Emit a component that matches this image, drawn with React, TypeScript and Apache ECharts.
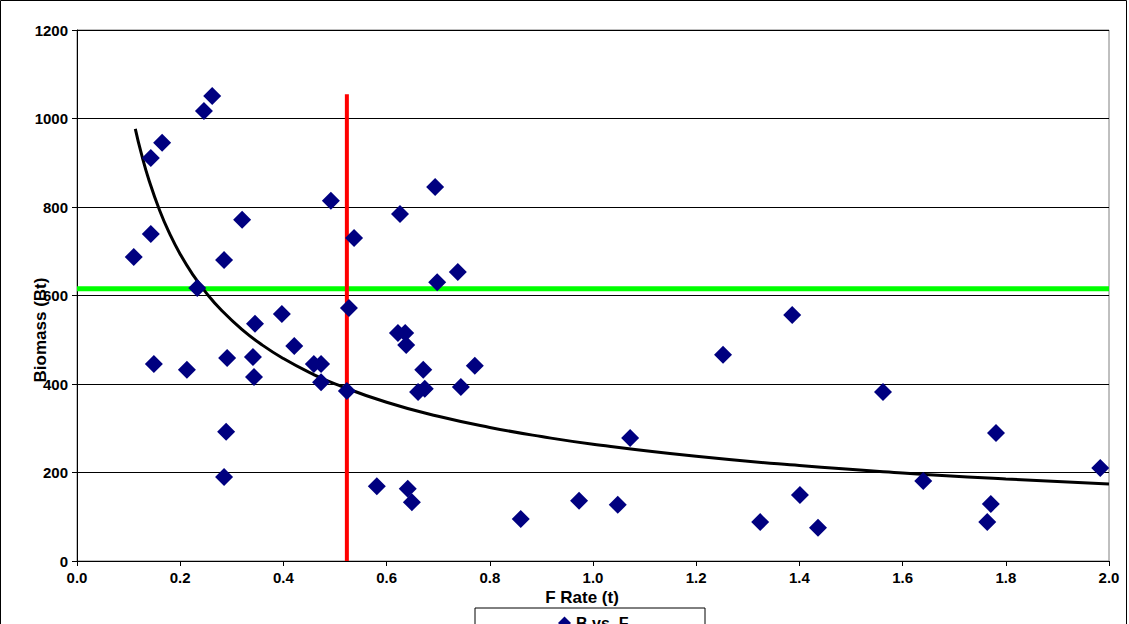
import React, { useEffect, useRef } from "react";
import * as echarts from "echarts";

const fRate = [
  0.11, 0.143, 0.165, 0.143, 0.149, 0.262, 0.246, 0.213, 0.233, 0.285, 0.32, 0.291, 0.289, 0.285,
  0.345, 0.341, 0.343, 0.397, 0.421, 0.459, 0.473, 0.473, 0.492, 0.527, 0.523, 0.537, 0.581,
  0.626, 0.622, 0.636, 0.638, 0.694, 0.698, 0.738, 0.671, 0.661, 0.674, 0.641, 0.649, 0.744,
  0.771, 0.86, 0.973, 1.048, 1.072, 1.252, 1.324, 1.386, 1.401, 1.436, 1.562, 1.64, 1.764,
  1.771, 1.781, 1.983,
];
const biomass = [
  687, 911, 945, 739, 445, 1051, 1017, 432, 617, 680, 771, 459, 292, 190, 536, 461, 416, 558,
  486, 445, 445, 404, 814, 572, 384, 730, 169, 784, 515, 515, 488, 845, 630, 653, 432, 382, 389,
  163, 133, 393, 441, 95, 136, 127, 278, 466, 88, 556, 149, 75, 382, 181, 88, 129, 289, 210,
];

// power trend fit: B = a * F^b
const trendA = 264;
const trendB = -0.6;
const trendX = [
  0.113, 0.125, 0.14, 0.16, 0.18, 0.2, 0.225, 0.25, 0.28, 0.32, 0.36, 0.4, 0.45, 0.5, 0.6, 0.7,
  0.8, 0.9, 1.0, 1.2, 1.4, 1.6, 1.8, 2.0,
];

const targetB = 615;
const currentF = 0.523;
const redTop = 1055;

const font = "'Liberation Sans', Arial, sans-serif";

const App = () => {
  const ref = useRef<HTMLDivElement>(null);

  useEffect(() => {
    if (!ref.current) return;
    const chart = echarts.init(ref.current, null, { renderer: "svg" });
    chart.setOption({
      animation: false,
      backgroundColor: "#fff",
      textStyle: { fontFamily: font },
      grid: { left: 77, right: 20, top: 30, bottom: 63, show: true, borderColor: "#808080", borderWidth: 1 },
      xAxis: {
        type: "value",
        min: 0,
        max: 2,
        interval: 0.2,
        axisLine: { onZero: false, lineStyle: { color: "#000" } },
        axisTick: { length: 5, lineStyle: { color: "#000" } },
        splitLine: { show: false },
        axisLabel: { color: "#000", fontWeight: "bold", fontSize: 15, fontFamily: font, formatter: (v: number) => v.toFixed(1), margin: 9 },
      },
      yAxis: {
        type: "value",
        min: 0,
        max: 1200,
        interval: 200,
        axisLine: { show: true, lineStyle: { color: "#000" } },
        axisTick: { show: true, length: 5, lineStyle: { color: "#000" } },
        splitLine: { lineStyle: { color: "#000", width: 1 } },
        axisLabel: { color: "#000", fontWeight: "bold", fontSize: 15, fontFamily: font, margin: 9, formatter: (v: number) => String(v) },
      },
      legend: {
        data: ["B vs. F"],
        left: 553,
        top: 610,
        itemWidth: 13,
        itemHeight: 13,
        textStyle: { color: "#000", fontWeight: "bold", fontSize: 16, fontFamily: font },
      },
      graphic: [
        { type: "rect", shape: { x: 0.5, y: 0.5, width: 1126, height: 640 }, style: { fill: "none", stroke: "#000", lineWidth: 1 }, z: -1 },
        { type: "rect", shape: { x: 475, y: 608, width: 230, height: 40 }, style: { fill: "#fff", stroke: "#000", lineWidth: 1 }, z: 0 },
        { type: "text", x: 582, y: 597, style: { text: "F Rate (t)", font: `bold 17px ${font}`, fill: "#000", align: "center", verticalAlign: "middle" } },
        { type: "text", x: 40, y: 330, rotation: Math.PI / 2, style: { text: "Biomass (Bt)", font: `bold 17px ${font}`, fill: "#000", align: "center", verticalAlign: "middle" } },
      ],
      series: [
        {
          name: "Target",
          type: "line",
          data: [[0, targetB], [2, targetB]],
          symbol: "none",
          lineStyle: { color: "#00ff00", width: 5 },
          z: 3,
        },
        {
          name: "Current",
          type: "line",
          data: [[currentF, 0], [currentF, redTop]],
          symbol: "none",
          lineStyle: { color: "#ff0000", width: 4 },
          z: 3,
        },
        {
          name: "Trend",
          type: "line",
          smooth: true,
          data: trendX.map((x) => [x, trendA * Math.pow(x, trendB)]),
          symbol: "none",
          lineStyle: { color: "#000", width: 3 },
          z: 4,
        },
        {
          name: "B vs. F",
          type: "scatter",
          data: fRate.map((f, i) => [f, biomass[i]]),
          symbol: "diamond",
          symbolSize: 18,
          itemStyle: { color: "#000080", opacity: 1 },
          z: 5,
        },
      ],
    });
    return () => chart.dispose();
  }, []);

  return <div ref={ref} style={{ width: 1129, height: 624, position: "absolute", left: 0, top: 0 }} />;
};

export default App;
